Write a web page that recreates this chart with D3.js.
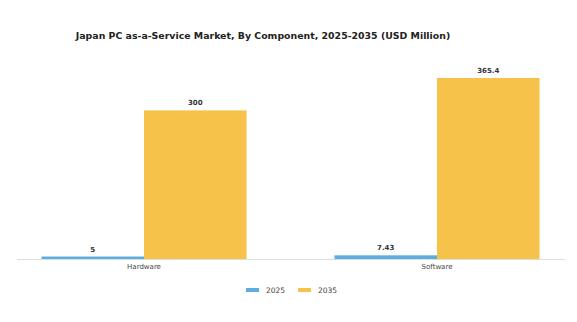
<!DOCTYPE html>
<html><head><meta charset="utf-8">
<script src="https://cdn.jsdelivr.net/npm/d3@7"></script>
<style>body{margin:0;background:#fff}svg{display:block;font-family:"DejaVu Sans",sans-serif}</style>
</head><body><svg id="c" width="577" height="322"></svg>
<script>
const categories = ["Hardware", "Software"];
const years = ["2025", "2035"];
const values2025 = [5, 7.43];
const values2035 = [300, 365.4];
const labels2025 = ["5", "7.43"];
const labels2035 = ["300", "365.4"];
const colors = ["#5dade2", "#f7c24a"];

const svg = d3.select("#c");
const baseY = 259;
const x = d3.scaleBand().domain(categories).range([-2.5, 583.5]).paddingInner(0.3).paddingOuter(0.15);
const xs = d3.scaleBand().domain(years).range([0, x.bandwidth()]);
const y = d3.scaleLinear().domain([0, 365.4]).range([baseY, 78]);

svg.append("text").attr("x", 263).attr("y", 38.5).attr("text-anchor", "middle")
  .attr("font-size", 9.4).attr("font-weight", "bold").attr("fill", "#222")
  .text("Japan PC as-a-Service Market, By Component, 2025-2035 (USD Million)");

const series = [values2025, values2035];
const lbls = [labels2025, labels2035];
series.forEach((vals, si) => {
  const g = svg.append("g");
  g.selectAll("rect").data(categories).join("rect")
    .attr("x", d => x(d) + xs(years[si]))
    .attr("y", (d, i) => y(vals[i]))
    .attr("width", xs.bandwidth())
    .attr("height", (d, i) => baseY - y(vals[i]))
    .attr("fill", colors[si]);
  g.selectAll("text").data(categories).join("text")
    .attr("x", d => x(d) + xs(years[si]) + xs.bandwidth() / 2)
    .attr("y", (d, i) => y(vals[i]) - 5)
    .attr("text-anchor", "middle").attr("font-size", 7).attr("font-weight", "bold").attr("fill", "#333")
    .text((d, i) => lbls[si][i]);
});

const axis = svg.append("g").attr("transform", `translate(0,${baseY})`)
  .call(d3.axisBottom(x).tickSize(0).tickPadding(5));
axis.select(".domain").remove();
axis.selectAll("text").attr("font-size", 7).attr("fill", "#444").attr("font-family", "DejaVu Sans");
svg.append("line").attr("x1", 17).attr("x2", 565).attr("y1", baseY + 0.5).attr("y2", baseY + 0.5)
  .attr("stroke", "#ddd").attr("stroke-width", 1);

const leg = svg.append("g");
const legX = [246, 298];
years.forEach((yr, i) => {
  leg.append("rect").attr("x", legX[i]).attr("y", 288).attr("width", 13).attr("height", 4).attr("fill", colors[i]);
  leg.append("text").attr("x", legX[i] + 20).attr("y", 293).attr("font-size", 7.5).attr("fill", "#444").text(yr);
});
</script></body></html>
